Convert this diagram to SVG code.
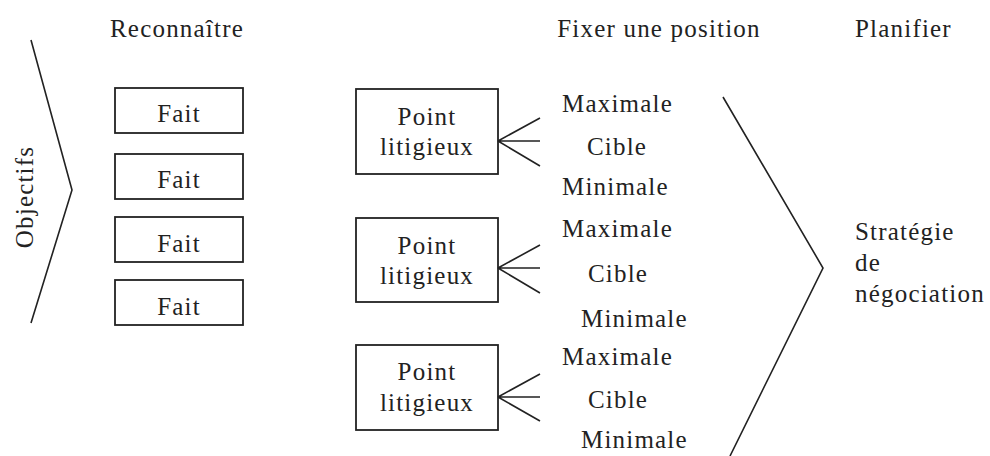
<svg xmlns="http://www.w3.org/2000/svg" width="990" height="456" viewBox="0 0 990 456">
  <style>
    .c { text-anchor: middle; }
    .box { fill: #fff; stroke: #222; stroke-width: 1.8; }
    .ln { fill: none; stroke: #222; stroke-width: 1.6; }
  </style>
  <rect width="990" height="456" fill="#fff"/>

  <g font-family="'Liberation Serif', 'Times New Roman', serif" font-size="25" letter-spacing="1.2" fill="#222">
    <!-- column headings -->
    <g id="headings">
      <text class="c" x="177" y="37">Reconnaître</text>
      <text class="c" x="659" y="37">Fixer une position</text>
      <text x="855" y="37">Planifier</text>
    </g>

    <!-- objectives bracket -->
    <g id="objectifs">
      <polyline class="ln" points="31,40 72,190 31,323"/>
      <text class="c" transform="translate(33,197) rotate(-90)">Objectifs</text>
    </g>

    <!-- facts -->
    <g id="fait1"><rect class="box" x="115" y="88" width="128" height="45"/><text class="c" x="179" y="122">Fait</text></g>
    <g id="fait2"><rect class="box" x="115" y="154" width="128" height="45"/><text class="c" x="179" y="188">Fait</text></g>
    <g id="fait3"><rect class="box" x="115" y="217" width="128" height="45"/><text class="c" x="179" y="252">Fait</text></g>
    <g id="fait4"><rect class="box" x="115" y="280" width="128" height="45"/><text class="c" x="179" y="315">Fait</text></g>

    <!-- issues -->
    <g id="point1"><rect class="box" x="356" y="89" width="142" height="85"/><text class="c" x="427" y="125">Point</text><text class="c" x="427" y="155">litigieux</text></g>
    <g id="point2"><rect class="box" x="356" y="218" width="142" height="84"/><text class="c" x="427" y="254">Point</text><text class="c" x="427" y="284">litigieux</text></g>
    <g id="point3"><rect class="box" x="356" y="345" width="142" height="85"/><text class="c" x="427" y="380">Point</text><text class="c" x="427" y="411">litigieux</text></g>

    <!-- positions -->
    <g id="positions1">
      <text x="562" y="112">Maximale</text>
      <text x="587" y="155">Cible</text>
      <text x="562" y="195">Minimale</text>
    </g>
    <g id="positions2">
      <text x="562" y="237">Maximale</text>
      <text x="588" y="282">Cible</text>
      <text x="581" y="327">Minimale</text>
    </g>
    <g id="positions3">
      <text x="562" y="365">Maximale</text>
      <text x="588" y="408">Cible</text>
      <text x="581" y="448">Minimale</text>
    </g>

    <!-- strategy -->
    <g id="strategie">
      <text x="855" y="240">Stratégie</text>
      <text x="855" y="271">de</text>
      <text x="855" y="302">négociation</text>
    </g>
  </g>

  <!-- connectors -->
  <g id="connectors">
    <path class="ln" d="M540,118 L498,141 L540,141 M498,141 L540,166"/>
    <path class="ln" d="M540,245 L498,268 L540,268 M498,268 L540,293"/>
    <path class="ln" d="M540,374 L498,397 L540,397 M498,397 L540,421"/>
    <polyline class="ln" points="723,97 823,268 730,456"/>
  </g>
</svg>
